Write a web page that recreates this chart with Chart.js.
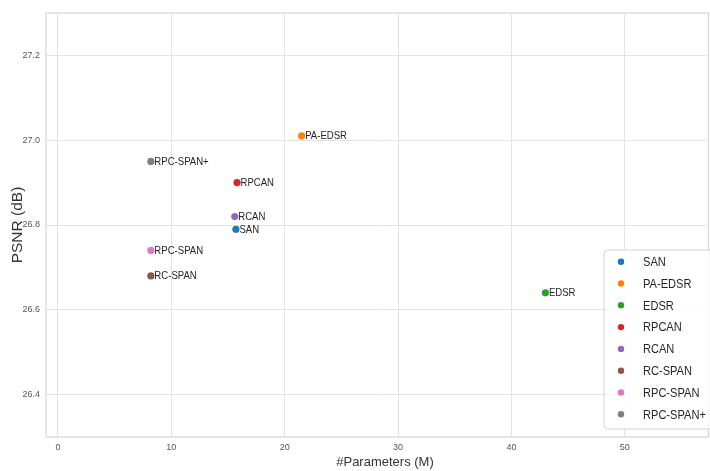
<!DOCTYPE html>
<html>
<head>
<meta charset="utf-8">
<script src="https://cdn.jsdelivr.net/npm/chart.js@4"></script>
<style>
  html, body { margin: 0; padding: 0; background: #ffffff; }
  #wrap { width: 710px; height: 471px; position: relative; }
</style>
</head>
<body>
<div id="wrap"><canvas id="c" width="710" height="471"></canvas></div>
<script>
// Models compared: parameter count (millions) vs. PSNR (dB)
const models = ['SAN', 'PA-EDSR', 'EDSR', 'RPCAN', 'RCAN', 'RC-SPAN', 'RPC-SPAN', 'RPC-SPAN+'];
const params = [15.7, 21.5, 43.0, 15.8, 15.6, 8.2, 8.2, 8.2];
const psnr   = [26.79, 27.01, 26.64, 26.90, 26.82, 26.68, 26.74, 26.95];
const colors = ['#1f77b4', '#ff7f0e', '#2ca02c', '#d62728', '#9467bd', '#8c564b', '#e377c2', '#7f7f7f'];
const xTicks = [0, 10, 20, 30, 40, 50];
const yTicks = [26.4, 26.6, 26.8, 27.0, 27.2];
const xTitle = '#Parameters (M)';
const yTitle = 'PSNR (dB)';

const gridColor = '#e3e3e3';
const spineColor = '#d6d6d6';
const tickFont = { family: "'Liberation Sans Narrow', 'Liberation Sans', Arial", size: 9 };

// Text drawn slightly condensed horizontally
function narrowText(ctx, text, x, y, squeeze) {
  ctx.save();
  ctx.translate(x, y);
  ctx.scale(squeeze, 1);
  ctx.fillText(text, 0, 0);
  ctx.restore();
}

// Name written just right of each marker
const pointLabels = {
  id: 'pointLabels',
  afterDatasetsDraw(chart) {
    const ctx = chart.ctx;
    ctx.save();
    ctx.font = "11px 'Liberation Sans', Arial, sans-serif";
    ctx.fillStyle = '#262626';
    ctx.textBaseline = 'middle';
    ctx.textAlign = 'left';
    chart.data.datasets.forEach((ds, i) => {
      const el = chart.getDatasetMeta(i).data[0];
      narrowText(ctx, ds.label, el.x + 3.5, el.y + 0.5, 0.87);
    });
    ctx.restore();
  }
};

// Frame around the plotting area and the two axis titles
const frame = {
  id: 'frame',
  beforeDatasetsDraw(chart) {
    const { ctx, chartArea: a } = chart;
    ctx.save();
    ctx.strokeStyle = spineColor;
    ctx.lineWidth = 1.2;
    ctx.strokeRect(a.left, a.top, a.right - a.left + 2, a.bottom - a.top);

    ctx.fillStyle = '#333333';
    ctx.textAlign = 'center';
    ctx.textBaseline = 'middle';
    ctx.font = "13px 'Liberation Sans', Arial, sans-serif";
    ctx.fillText(xTitle, 385, 462);

    ctx.translate(18, (a.top + a.bottom) / 2);
    ctx.rotate(-Math.PI / 2);
    ctx.font = "15.5px 'Liberation Sans', Arial, sans-serif";
    ctx.fillText(yTitle, 0, 0);
    ctx.restore();
  }
};

// Boxed legend sitting inside the plot at lower right
const boxLegend = {
  id: 'boxLegend',
  afterDraw(chart) {
    const ctx = chart.ctx;
    const x0 = 604, y0 = 250, w = 130, h = 179, rowH = 21.8;
    ctx.save();
    ctx.beginPath();
    ctx.roundRect(x0, y0, w, h, 4);
    ctx.fillStyle = 'rgba(255,255,255,0.85)';
    ctx.fill();
    ctx.strokeStyle = '#d4d4d4';
    ctx.lineWidth = 1;
    ctx.stroke();
    ctx.font = "13.5px 'Liberation Sans', Arial, sans-serif";
    ctx.textBaseline = 'middle';
    ctx.textAlign = 'left';
    chart.data.datasets.forEach((ds, i) => {
      const cy = y0 + 11.7 + i * rowH;
      ctx.beginPath();
      ctx.arc(x0 + 17, cy, 3.2, 0, Math.PI * 2);
      ctx.fillStyle = ds.backgroundColor;
      ctx.fill();
      ctx.fillStyle = '#262626';
      narrowText(ctx, ds.label, x0 + 39, cy + 0.5, 0.82);
    });
    ctx.restore();
  }
};

const datasets = models.map((m, i) => ({
  label: m,
  data: [{ x: params[i], y: psnr[i] }],
  backgroundColor: colors[i],
  borderColor: colors[i],
  pointRadius: 3.6,
  pointHoverRadius: 3.6,
  borderWidth: 0
}));

new Chart(document.getElementById('c'), {
  type: 'scatter',
  data: { datasets },
  plugins: [frame, pointLabels, boxLegend],
  options: {
    responsive: false,
    animation: false,
    devicePixelRatio: 1,
    layout: { padding: { top: 13, right: 0, left: 0, bottom: 0 } },
    plugins: {
      legend: { display: false },
      tooltip: { enabled: false }
    },
    scales: {
      x: {
        type: 'linear',
        min: -1.05,
        max: 57.2,
        afterBuildTicks: s => { s.ticks = xTicks.map(v => ({ value: v })); },
        afterFit: s => { s.height = 34; },
        grid: { color: gridColor, lineWidth: 1, drawTicks: false },
        border: { display: false },
        ticks: { font: tickFont, color: '#555555', padding: 5, maxRotation: 0 },
        title: { display: false }
      },
      y: {
        type: 'linear',
        min: 26.30,
        max: 27.30,
        afterBuildTicks: s => { s.ticks = yTicks.map(v => ({ value: v })); },
        afterFit: s => { s.width = 46; },
        grid: { color: gridColor, lineWidth: 1, drawTicks: false },
        border: { display: false },
        ticks: {
          font: tickFont,
          color: '#555555',
          padding: 6,
          callback: v => v.toFixed(1)
        },
        title: { display: false }
      }
    }
  }
});
</script>
</body>
</html>
